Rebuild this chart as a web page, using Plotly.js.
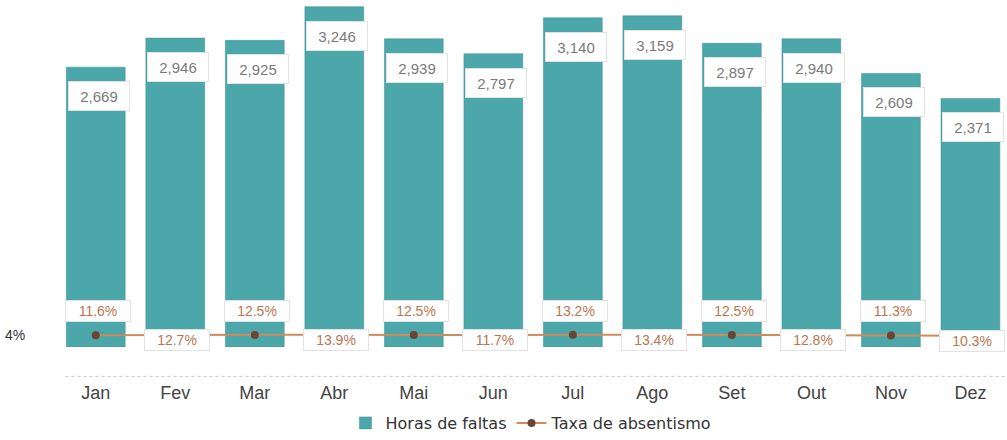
<!DOCTYPE html>
<html>
<head>
<meta charset="utf-8">
<script src="https://cdn.plot.ly/plotly-3.0.1.min.js"></script>
<style>html,body{margin:0;padding:0;background:#fff;}#chart{width:1007px;height:440px;}</style>
</head>
<body>
<div id="chart"></div>
<script>
const months = ["Jan","Fev","Mar","Abr","Mai","Jun","Jul","Ago","Set","Out","Nov","Dez"];
const horasFaltas = [2669,2946,2925,3246,2939,2797,3140,3159,2897,2940,2609,2371];
const taxaAbsentismo = [0.116,0.127,0.125,0.139,0.125,0.117,0.132,0.134,0.125,0.128,0.113,0.103];
const horasLabels = ["2,669","2,946","2,925","3,246","2,939","2,797","3,140","3,159","2,897","2,940","2,609","2,371"];
const taxaLabels = ["11.6%","12.7%","12.5%","13.9%","12.5%","11.7%","13.2%","13.4%","12.5%","12.8%","11.3%","10.3%"];

const barColor = '#4ba7a9';
const lineColor = '#d08a5c';

const traces = [
  {
    type: 'bar', name: 'Horas de faltas', x: months, y: horasFaltas,
    marker: {color: barColor, line: {color: '#3f8f90', width: 0.5}},
    hoverinfo: 'skip'
  },
  {
    type: 'scatter', mode: 'lines+markers', name: 'Taxa de absentismo',
    x: months, y: taxaAbsentismo, yaxis: 'y2',
    line: {color: lineColor, width: 2},
    marker: {color: '#6a4535', size: 8, symbol: 'circle'},
    hoverinfo: 'skip'
  }
];

const annotations = [];
months.forEach((m, i) => {
  annotations.push({
    x: m, y: horasFaltas[i], xref: 'x', yref: 'y',
    text: horasLabels[i], showarrow: false,
    yshift: -29, xshift: 3,
    bgcolor: '#ffffff', bordercolor: '#e2e2e2', borderwidth: 1,
    width: 58, height: 26,
    font: {family: 'Liberation Sans, Arial, sans-serif', size: 15, color: '#7a7a7a'}
  });
  const odd = (i % 2 === 0);
  annotations.push({
    x: m, y: taxaAbsentismo[i], xref: 'x', yref: 'y2',
    text: taxaLabels[i], showarrow: false,
    yshift: odd ? 24 : -5, xshift: 2,
    bgcolor: '#ffffff', bordercolor: '#e2e2e2', borderwidth: 1,
    width: 62, height: 18,
    font: {family: 'Liberation Sans, Arial, sans-serif', size: 14, color: '#b9764f'}
  });
});
annotations.push({
  x: -0.043, xref: 'paper', y: 0.12, yref: 'y2',
  text: '4%', showarrow: false, xanchor: 'center',
  font: {family: 'Liberation Sans, Arial, sans-serif', size: 14, color: '#333'}
});

const layout = {
  width: 1007, height: 440,
  margin: {l: 56, r: 0, t: 1, b: 92},
  paper_bgcolor: '#ffffff', plot_bgcolor: '#ffffff',
  bargap: 0.26,
  showlegend: true,
  legend: {
    orientation: 'h', x: 0.5, xanchor: 'center', y: -0.22, yanchor: 'middle',
    font: {family: 'DejaVu Sans, sans-serif', size: 16, color: '#333'},
    itemwidth: 30
  },
  xaxis: {
    range: [-0.5, 11.46], showgrid: false, zeroline: false, showline: false,
    ticks: 'outside', ticklen: 29, tickcolor: 'rgba(0,0,0,0)',
    tickfont: {family: 'Liberation Sans, Arial, sans-serif', size: 18, color: '#444'}
  },
  yaxis: {
    range: [0, 3300], showgrid: false, zeroline: false, showticklabels: false, showline: false
  },
  yaxis2: {
    range: [-0.3, 12], overlaying: 'y', side: 'left', showgrid: false,
    zeroline: false, showticklabels: false, showline: false
  },
  annotations: annotations,
  shapes: [{
    type: 'line', xref: 'paper', yref: 'paper', x0: 0.01, x1: 1, y0: -0.085, y1: -0.085,
    line: {color: '#c8c8c8', width: 1, dash: 'dot'}
  }]
};

Plotly.newPlot('chart', traces, layout, {displayModeBar: false, staticPlot: true});
</script>
</body>
</html>
